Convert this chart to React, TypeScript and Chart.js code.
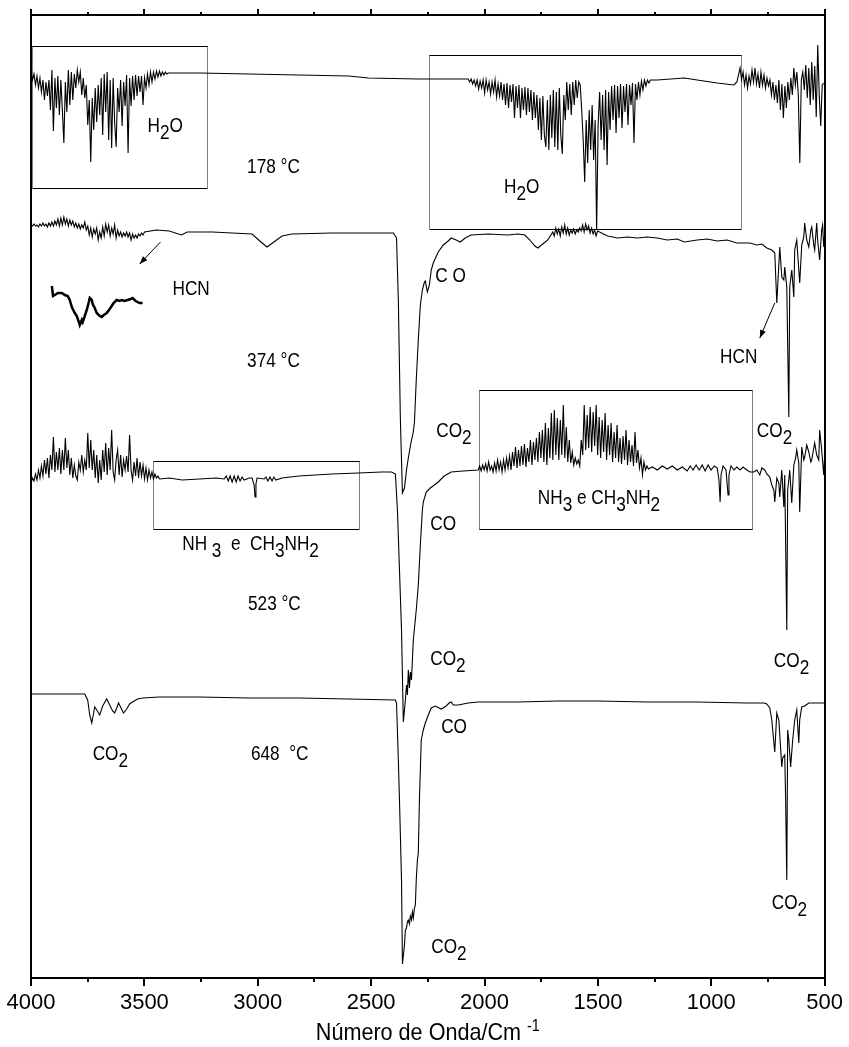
import React, { useEffect, useRef } from "react";
import { Chart, registerables } from "chart.js";

Chart.register(...registerables);

const FONT = "'Liberation Sans', Arial, Helvetica, sans-serif";

// ---------- axes ----------
const WN_MAX = 4000;
const WN_MIN = 500;
const Y_MIN = 0;
const Y_MAX = 963;
const MAJOR_STEP = 500;
const MINOR_TICKS = [3750, 3250, 2750, 2250, 1750, 1250, 750];
const X_TITLE = "Número de Onda/Cm ^{-1}";

// sampling interval (cm-1) of the densely read noisy bands
const SAMPLE_STEP = 6.587;

// vertical offsets of the stacked spectra (a.u.)
const OFFSET_178 = 905;
const OFFSET_374 = 745;
const OFFSET_523 = 508;
const OFFSET_648 = 278;

type Pair = [number, number];

// ---------- 178 °C ----------
const S178_BAND_A_START = 4000;
const S178_BAND_A = [
  1, -7, -1, -12, -3, -15, -5, -19, -7, -27, -9, -23, -7, -37, 3, -58, -5, -35, -3, -42,
  -7, -37, -70, -9, -39, 3, -32, 1, -27, -1, -15, 3, -9, 1, -22, -5, -25, -12, -52, -27,
  -89, -25, -57, -15, -49, -12, -42, -5, -62, -1, -39, 1, -67, -7, -75, -5, -49, -74, -15, -39,
  -7, -53, -9, -33, -2, -80, -5, -33, -3, -27, -2, -23, -3, -19, -3, -32, -5, -15, -1, -12,
  1, -9, 1, -6, 2, -4, 2, -3, 1, -2, 1, -1, 0,
];
const S178_MID: Pair[] = [
  [3390, 0], [3258, 0], [3038, -1], [2819, -2], [2599, -3], [2511, -5], [2292, -6], [2116, -6],
];
const S178_BAND_B_START = 2072;
const S178_BAND_B = [
  -6, -9, -6, -11, -7, -13, -7, -16, -8, -15, -7, -20, -7, -17, -9, -21, -9, -19, -7, -24,
  -11, -23, -9, -27, -11, -32, -10, -35, -12, -29, -11, -45, -13, -35, -12, -45, -15, -37, -14, -42,
  -15, -39, -17, -47, -19, -45, -22, -57, -25, -67, -23, -62, -74, -27, -77, -22, -65, -17, -74, -19,
  -77, -15, -62, -81, -22, -47, -9, -37, -11, -42, -9, -32, -7, -25, -9, -12, -37, -67, -109, -47,
  -90, -37, -77, -32, -87, -47, -157, -52, -19, -67, -22, -77, -17, -92, -19, -57, -13, -47, -12, -60,
  -13, -45, -11, -55, -13, -39, -11, -52, -12, -32, -10, -70, -11, -27, -9, -22, -8, -17, -7, -13,
  -7, -10, -7,
];
const S178_POST_B: Pair[] = [
  [1238, -7], [1119, -5], [1062, -7], [974, -10], [900, -12], [887, -9],
];
const S178_BAND_C_START = 873;
const S178_BAND_C = [
  5, -7, 1, -12, -2, -15, -3, -11, 3, -9, 5, -11, -1, -15, 1, -12, -2, -15, -5, -13,
  -7, -22, -9, -27, -12, -30, -7, -37, -11, -45, -13, -35, -9, -27, -5, -22, 5, -12, 1, -22,
  -90, -7, 1, -17, 8, -25, 5, -32, 11, -27, 7, -44, 28, -22, -53, -12, -10,
];

// ---------- 374 °C ----------
const S374_BAND_A_START = 4000;
const S374_BAND_A = [
  8, 7, 9, 7, 8, 6, 9, 7, 10, 7, 9, 6, 10, 7, 11, 7, 12, 8, 14, 7,
  15, 8, 16, 9, 14, 7, 13, 8, 12, 6, 10, 5, 9, 4, 8, 5, 11, 3, 7, -2,
  5, -4, 4, -1, 5, -7, 1, -5, 6, -3, 9, 1, 8, -3, 5, -1, 8, -5, 3, -3,
  1, -4, 0, -3, 1, -4, 0, -7, -1, -5, -2, -5, -1, -3, 0, -2, 1,
];
const S374_MID: Pair[] = [
  [3447, 3], [3390, 2], [3337, -2], [3311, 1], [3201, 1], [3025, -1], [2986, -9], [2959, -14],
  [2929, -9], [2893, -3], [2850, -1], [2674, 0], [2524, 0], [2402, 0], [2388, -5], [2380, -67],
  [2371, -187], [2362, -260], [2353, -255], [2344, -237], [2336, -225], [2327, -213], [2322, -207],
  [2314, -199], [2309, -189], [2301, -147], [2292, -107], [2283, -72], [2274, -57], [2265, -49],
  [2261, -48], [2252, -59], [2243, -52], [2235, -37], [2226, -30], [2204, -19], [2182, -12],
  [2160, -8], [2147, -5], [2125, -7], [2107, -9], [2085, -5], [2059, -2], [1984, -1], [1897, -2],
  [1853, -1], [1822, -2], [1800, -7], [1778, -13], [1765, -15], [1743, -11], [1721, -7],
];
const S374_BAND_B_START = 1699;
const S374_BAND_B = [
  1, -3, 5, -1, 4, -3, 6, 0, 8, -1, 5, -2, 3, 0, 4, -1, 3, 1, 5, 2, 8, 1, 9, 3, 7, 0, 5, -1, 3, -3, 2,
];
const S374_TAIL: Pair[] = [
  [1457, -3], [1413, -5], [1370, -4], [1326, -5], [1282, -4], [1238, -5], [1194, -7], [1150, -6],
  [1119, -9], [1062, -7], [1018, -6], [974, -8], [930, -7], [887, -10], [829, -10], [799, -12],
  [777, -11], [755, -15], [733, -17], [720, -20], [711, -70], [698, -14], [689, -44], [680, -47],
  [676, -34], [667, -54], [658, -184], [654, -54], [645, -37], [636, -64], [632, -17], [623, -7],
  [610, -50], [601, -12], [592, -4], [588, 10], [579, -7], [570, -14], [561, 3], [557, 6],
  [548, -12], [544, -17], [535, 10], [531, -7], [522, -27], [513, 3], [509, 8], [504, -14], [500, -2],
];

// ---------- 523 °C ----------
const S523_BAND_A_START = 4000;
const S523_BAND_A = [
  -13, -8, -11, -4, -10, 0, -8, 4, -6, 10, -4, 12, -8, 15, 0, 33, -2, 18, 0, 22,
  -4, 20, 0, 32, 2, 20, -5, 12, -8, 5, -6, -10, 8, 0, 15, -2, 10, 0, 37, 2,
  30, 0, 20, -8, 15, -13, 10, -10, 20, -2, 27, -5, 22, 0, 40, -2, -10, 10, 20, -5,
  15, -7, 10, 0, 14, -2, 35, 0, -10, 8, -6, 12, -8, 8, -6, 5, -9, 2, -10, 0,
  -8, -2, -9, -4, -8, -6, -9,
];
const S523_MID: Pair[] = [
  [3390, -8], [3333, -10], [3258, -9], [3183, -8], [3148, -9], [3139, -6], [3130, -11], [3122, -6],
  [3113, -12], [3104, -6], [3095, -12], [3087, -6], [3078, -11], [3069, -7], [3060, -10], [3038, -8],
  [3025, -8], [3016, -15], [3012, -27], [3008, -14], [3003, -8], [2972, -9], [2964, -7], [2955, -11],
  [2946, -7], [2937, -11], [2929, -7], [2920, -10], [2893, -8], [2819, -6], [2674, -4], [2555, -3],
  [2454, -2], [2410, -2], [2393, -4], [2384, -40], [2375, -100], [2366, -160], [2358, -252],
  [2349, -230], [2344, -215], [2340, -225], [2336, -200], [2331, -218], [2327, -202], [2322, -210],
  [2314, -170], [2301, -140], [2292, -115], [2283, -75], [2274, -40], [2270, -32], [2257, -22],
  [2239, -18], [2221, -15], [2204, -12], [2178, -6], [2147, -2], [2094, -1],
];
const S523_BAND_B_START = 2028;
const S523_BAND_B = [
  0, 4, -1, 5, 0, 6, -1, 8, 0, 4, -2, 7, -1, 10, 0, 8, -2, 10, 0, 12,
  2, 14, 0, 18, 4, 23, 2, 20, 4, 24, 5, 26, 3, 22, 8, 30, 5, 28, 10, 32,
  8, 38, 12, 40, 8, 47, 5, 42, 12, 57, 10, 60, 15, 52, 10, 50, 15, 65, 12, 43,
  8, 30, 7, 18, 5, 12, 6, 10, 4, 30, 15, 65, 20, 55, 22, 63, 18, 58, 24, 65,
  15, 53, 12, 50, 18, 57, 10, 45, 15, 47, 8, 38, 12, 45, 8, 32, 6, 34, 10, 40,
  5, 30, 8, 25, 4, 38, 7, 20, 2, 12, -5, 8, 0, 4, 1,
];
const S523_TAIL: Pair[] = [
  [1260, 3], [1238, 0], [1216, 4], [1194, 1], [1172, 4], [1150, 0], [1128, 3], [1106, -1],
  [1093, 4], [1080, 0], [1067, 5], [1053, 0], [1040, 5], [1027, -1], [1014, 5], [1001, 0],
  [987, 4], [974, 2], [966, -10], [961, -32], [957, -5], [948, 4], [935, 0], [926, -25],
  [922, -5], [913, 4], [900, 0], [887, 3], [873, 0], [860, 3], [843, 0], [829, -2], [812, -2],
  [799, 0], [786, -5], [777, 2], [764, 0], [755, -4], [742, -7], [733, -15], [724, -20],
  [720, -32], [711, -8], [702, -13], [698, -27], [689, 0], [680, -37], [676, -5], [667, -160],
  [663, -20], [658, -10], [654, 0], [645, -33], [636, 5], [628, 12], [623, 20], [614, 7],
  [610, -42], [601, 23], [592, 10], [588, 13], [579, 25], [570, 18], [561, 8], [557, 10],
  [548, 22], [544, 27], [535, 15], [526, 10], [522, 40], [513, 20], [504, -5], [500, 15],
];

// ---------- 648 °C ----------
const S648: Pair[] = [
  [4000, 6], [3873, 6], [3763, 6], [3750, 0], [3741, -15], [3732, -23], [3723, -12], [3719, -7],
  [3710, -10], [3697, -15], [3684, -6], [3666, 1], [3653, -5], [3640, -11], [3631, -13], [3622, -8],
  [3614, -3], [3605, -7], [3592, -13], [3578, -9], [3565, -4], [3552, -2], [3530, 1], [3508, 2],
  [3434, 3], [3258, 3], [3038, 2], [2819, 2], [2599, 1], [2393, 0], [2388, -3], [2380, -60],
  [2375, -100], [2366, -180], [2362, -264], [2353, -245], [2349, -230], [2344, -228], [2340, -222],
  [2336, -220], [2331, -224], [2327, -216], [2322, -220], [2318, -212], [2314, -218], [2309, -208],
  [2305, -205], [2301, -180], [2296, -160], [2292, -153], [2287, -100], [2279, -40], [2270, -30],
  [2261, -23], [2248, -15], [2235, -8], [2217, -6], [2191, -9], [2169, -6], [2156, -3], [2147, -2],
  [2138, -5], [2116, -5], [2072, -3], [2028, -2], [1853, -2], [1677, -1], [1501, -1], [1282, -2],
  [1062, -2], [843, -3], [768, -3], [755, -4], [742, -8], [733, -20], [720, -52], [715, -30],
  [711, -13], [702, -20], [689, -67], [685, -58], [676, -55], [672, -100], [667, -180], [663, -30],
  [658, -40], [650, -67], [641, -40], [632, -20], [623, -10], [614, -43], [610, -20], [601, -7],
  [588, -6], [570, -3], [535, -3], [500, -3],
];

// ---------- HCN inset (magnified band, drawn in the 374 °C panel) ----------
const HCN_INSET: Pair[] = [
  [3908, 692], [3903, 682], [3895, 683], [3881, 685], [3864, 685], [3851, 683], [3838, 682],
  [3829, 678], [3820, 671], [3807, 665], [3798, 662], [3789, 656], [3785, 653], [3776, 658],
  [3772, 656], [3763, 662], [3754, 668], [3745, 676], [3741, 680], [3732, 678], [3728, 674],
  [3719, 670], [3710, 665], [3697, 662], [3688, 661], [3679, 663], [3666, 665], [3653, 669],
  [3644, 672], [3636, 675], [3622, 678], [3609, 677], [3600, 678], [3587, 677], [3574, 678],
  [3561, 679], [3552, 680], [3539, 677], [3521, 675], [3508, 675],
];

// ---------- annotations (data coordinates: wavenumber, a.u.) ----------
const BOXES: [number, number, number, number][] = [
  [3996, 3223, 932, 790],
  [2243, 869, 923, 749],
  [3464, 2555, 517, 449],
  [2024, 821, 588, 449],
];
const ARROWS: [number, number, number, number][] = [
  [3429, 736, 3521, 714],
  [720, 675, 786, 640],
];
const LABELS: [string, number, number][] = [
  ["H_2O", 3486, 846],
  ["178 °C", 3047, 805],
  ["H_2O", 1914, 785],
  ["HCN", 3376, 683],
  ["C O", 2217, 696],
  ["HCN", 961, 615],
  ["374 °C", 3047, 611],
  ["CO_2", 2213, 541],
  ["CO_2", 799, 541],
  ["NH_3 e CH_3NH_2", 1765, 474],
  ["NH _3  e  CH_3NH_2", 3333, 428],
  ["CO", 2239, 448],
  ["523 °C", 3043, 368],
  ["CO_2", 2239, 313],
  ["CO_2", 724, 311],
  ["CO_2", 3728, 218],
  ["648  °C", 3030, 218],
  ["CO", 2191, 245],
  ["CO_2", 733, 69],
  ["CO_2", 2235, 25],
];

// ---------- helpers ----------
const sampled = (start: number, devs: number[]): Pair[] =>
  devs.map((d, i) => [start - i * SAMPLE_STEP, d] as Pair);
const toPoints = (offset: number, parts: Pair[][]) =>
  parts.flat().map(([x, d]) => ({ x, y: offset + d }));

type Part = { t: string; kind: "n" | "sub" | "sup" };
function parseRich(s: string): Part[] {
  const parts: Part[] = [];
  let buf = "";
  let i = 0;
  const push = (t: string, kind: Part["kind"]) => {
    if (t) parts.push({ t, kind });
  };
  while (i < s.length) {
    const c = s[i];
    if (c === "_") {
      push(buf, "n");
      buf = "";
      push(s[i + 1], "sub");
      i += 2;
      continue;
    }
    if (c === "^" && s[i + 1] === "{") {
      push(buf, "n");
      buf = "";
      const j = s.indexOf("}", i);
      push(s.slice(i + 2, j), "sup");
      i = j + 1;
      continue;
    }
    buf += c;
    i++;
  }
  push(buf, "n");
  return parts;
}

function drawRich(
  ctx: CanvasRenderingContext2D,
  s: string,
  x: number,
  y: number,
  size: number,
  sx: number,
  align: "left" | "center" = "left"
) {
  const parts = parseRich(s);
  const fontFor = (p: Part) => `${p.kind === "sup" ? Math.round(size * 0.68) : size}px ${FONT}`;
  ctx.save();
  ctx.translate(x, y);
  ctx.scale(sx, 1);
  ctx.textAlign = "left";
  ctx.textBaseline = "alphabetic";
  let w = 0;
  parts.forEach((p) => {
    ctx.font = fontFor(p);
    w += ctx.measureText(p.t).width;
  });
  let cx = align === "center" ? -w / 2 : 0;
  parts.forEach((p) => {
    ctx.font = fontFor(p);
    const dy = p.kind === "sub" ? size * 0.33 : p.kind === "sup" ? -size * 0.36 : 0;
    ctx.fillText(p.t, cx, dy);
    cx += ctx.measureText(p.t).width;
  });
  ctx.restore();
}

const annotationPlugin = {
  id: "ftirAnnotations",
  afterDraw(chart: any) {
    const { ctx, chartArea, scales } = chart;
    const xs = scales.x;
    const ys = scales.y;
    const px = (v: number) => xs.getPixelForValue(v);
    const py = (v: number) => ys.getPixelForValue(v);
    ctx.save();
    ctx.strokeStyle = "#000";
    ctx.fillStyle = "#000";

    // minor ticks (bottom and top)
    ctx.lineWidth = 2;
    MINOR_TICKS.forEach((v) => {
      const x = Math.round(px(v));
      ctx.beginPath();
      ctx.moveTo(x, chartArea.bottom);
      ctx.lineTo(x, chartArea.bottom + 4);
      ctx.moveTo(x, chartArea.top);
      ctx.lineTo(x, chartArea.top - 3);
      ctx.stroke();
    });

    // boxes
    ctx.lineWidth = 1;
    BOXES.forEach(([x1, x2, y1, y2]) => {
      const l = Math.round(px(x1)) + 0.5;
      const r = Math.round(px(x2)) + 0.5;
      const t = Math.round(py(y1)) + 0.5;
      const b = Math.round(py(y2)) + 0.5;
      ctx.setLineDash([]);
      ctx.beginPath();
      ctx.moveTo(l, t);
      ctx.lineTo(r, t);
      ctx.moveTo(l, b);
      ctx.lineTo(r, b);
      ctx.stroke();
      ctx.setLineDash([1, 1]);
      ctx.beginPath();
      ctx.moveTo(l, t);
      ctx.lineTo(l, b);
      ctx.moveTo(r, t);
      ctx.lineTo(r, b);
      ctx.stroke();
    });
    ctx.setLineDash([]);

    // arrows
    ARROWS.forEach(([a1, b1, a2, b2]) => {
      const x1 = px(a1), y1 = py(b1), x2 = px(a2), y2 = py(b2);
      ctx.lineWidth = 1;
      ctx.beginPath();
      ctx.moveTo(x1, y1);
      ctx.lineTo(x2, y2);
      ctx.stroke();
      const a = Math.atan2(y2 - y1, x2 - x1);
      const L = 8, W = 3;
      ctx.beginPath();
      ctx.moveTo(x2, y2);
      ctx.lineTo(x2 - L * Math.cos(a) + W * Math.sin(a), y2 - L * Math.sin(a) - W * Math.cos(a));
      ctx.lineTo(x2 - L * Math.cos(a) - W * Math.sin(a), y2 - L * Math.sin(a) + W * Math.cos(a));
      ctx.closePath();
      ctx.fill();
    });

    // labels
    LABELS.forEach(([s, wn, v]) => drawRich(ctx, s, px(wn), py(v), 20, 0.86));

    // x-axis title
    const cx = (chartArea.left + chartArea.right) / 2;
    drawRich(ctx, X_TITLE, cx, chart.height - 7, 24, 0.9, "center");

    ctx.restore();
  },
};

export default function App() {
  const ref = useRef<HTMLCanvasElement | null>(null);

  useEffect(() => {
    document.body.style.margin = "0";
    document.body.style.overflow = "hidden";
    const canvas = ref.current;
    if (!canvas) return;

    const line = (data: any[], width = 1.1) => ({
      data,
      borderColor: "#000",
      borderWidth: width,
      pointRadius: 0,
      fill: false,
      tension: 0,
    });

    const chart = new Chart(canvas, {
      type: "line",
      data: {
        datasets: [
          {
            label: "178 °C",
            ...line(
              toPoints(OFFSET_178, [
                sampled(S178_BAND_A_START, S178_BAND_A),
                S178_MID,
                sampled(S178_BAND_B_START, S178_BAND_B),
                S178_POST_B,
                sampled(S178_BAND_C_START, S178_BAND_C),
              ])
            ),
          },
          {
            label: "374 °C",
            ...line(
              toPoints(OFFSET_374, [
                sampled(S374_BAND_A_START, S374_BAND_A),
                S374_MID,
                sampled(S374_BAND_B_START, S374_BAND_B),
                S374_TAIL,
              ])
            ),
          },
          {
            label: "523 °C",
            ...line(
              toPoints(OFFSET_523, [
                sampled(S523_BAND_A_START, S523_BAND_A),
                S523_MID,
                sampled(S523_BAND_B_START, S523_BAND_B),
                S523_TAIL,
              ])
            ),
          },
          {
            label: "648 °C",
            ...line(toPoints(OFFSET_648, [S648])),
          },
          {
            label: "HCN",
            ...line(HCN_INSET.map(([x, y]) => ({ x, y })), 2.5),
          },
        ],
      },
      options: {
        responsive: false,
        maintainAspectRatio: false,
        animation: false,
        devicePixelRatio: 1,
        events: [],
        layout: { padding: { left: 31, right: 21, top: 9, bottom: 27 } },
        plugins: {
          legend: { display: false },
          tooltip: { enabled: false },
          title: { display: false },
        },
        scales: {
          x: {
            type: "linear",
            position: "bottom",
            reverse: true,
            min: WN_MIN,
            max: WN_MAX,
            ticks: {
              stepSize: MAJOR_STEP,
              autoSkip: false,
              maxRotation: 0,
              minRotation: 0,
              padding: 6,
              color: "#000",
              font: { family: FONT, size: 22, lineHeight: 1 },
              callback: (v: any) => String(v),
            },
            grid: {
              display: true,
              drawOnChartArea: false,
              drawTicks: true,
              tickLength: 8,
              tickWidth: 2,
              tickColor: "#000",
              color: "#000",
              lineWidth: 2,
            },
            border: { display: true, color: "#000", width: 2 },
          },
          x2: {
            type: "linear",
            position: "top",
            reverse: true,
            min: WN_MIN,
            max: WN_MAX,
            ticks: { display: false, stepSize: MAJOR_STEP },
            grid: {
              display: true,
              drawOnChartArea: false,
              drawTicks: true,
              tickLength: 6,
              tickWidth: 2,
              tickColor: "#000",
              color: "#000",
              lineWidth: 2,
            },
            border: { display: true, color: "#000", width: 2 },
          },
          y: {
            type: "linear",
            position: "left",
            min: Y_MIN,
            max: Y_MAX,
            ticks: { display: false },
            grid: { display: false, drawTicks: false },
            border: { display: true, color: "#000", width: 2 },
          },
          y2: {
            type: "linear",
            position: "right",
            min: Y_MIN,
            max: Y_MAX,
            ticks: { display: false },
            grid: { display: false, drawTicks: false },
            border: { display: true, color: "#000", width: 2 },
          },
        },
      } as any,
      plugins: [annotationPlugin],
    });

    return () => chart.destroy();
  }, []);

  return (
    <div style={{ position: "absolute", left: 0, top: 0, width: 849, height: 1047, background: "#fff" }}>
      <canvas ref={ref} width={849} height={1047} style={{ display: "block", width: 849, height: 1047 }} />
    </div>
  );
}
